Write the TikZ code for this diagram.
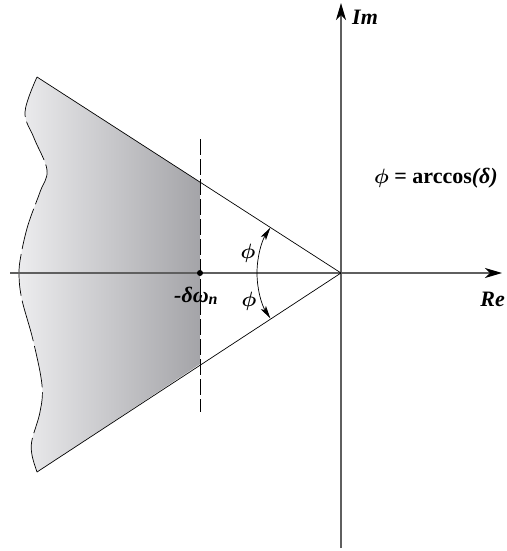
\documentclass[tikz,border=0pt]{standalone}
\usepackage{fontspec}
\setmainfont{Liberation Serif}
\usepackage{amsmath,bm}
\usetikzlibrary{arrows.meta}
\definecolor{shadeL}{RGB}{236,236,238}
\definecolor{shadeR}{RGB}{164,164,168}
\definecolor{axisgray}{RGB}{95,95,95}
\begin{document}
\begin{tikzpicture}[x=1pt,y=-1pt,
  axis/.style={draw=axisgray,line width=1.1pt,-{Stealth[black,length=17pt,width=10pt,inset=5pt]}},
  ray/.style={draw=black,line width=0.7pt},
  anglearrow/.style={draw=black,line width=0.7pt,-{Stealth[length=13pt,width=6pt,inset=3pt]}},
  lbl/.style={font=\fontsize{22}{24}\selectfont\bfseries\itshape,inner sep=0pt},
  philbl/.style={font=\fontsize{22}{24}\selectfont,inner sep=0pt}]
\useasboundingbox (0,0) rectangle (506,551);
% key points
\coordinate (O) at (341,273);
\coordinate (A) at (37,77);
\coordinate (B) at (37,472);
\coordinate (P) at (200,182);
\coordinate (Q) at (200,364);
\coordinate (D) at (200,273);
\coordinate (DT) at (200,139);
\coordinate (DB) at (200,412);
% shaded region
\shade[left color=shadeL,right color=shadeR]
  (A) -- (P) -- (Q) -- (B)
  -- plot[smooth,tension=0.6] coordinates {(37,472) (32,455) (32,440) (40,412) (42,385) (33,340) (22,300) (19,275) (21,255) (28,225) (40,192) (47,170) (34,138) (25,112) (37,77)}
  -- cycle;
\draw[line width=0.7pt,dash pattern=on 42pt off 5pt]
  plot[smooth,tension=0.6] coordinates {(37,77) (25,112) (34,138) (47,170) (40,192) (28,225) (21,255) (19,275) (22,300) (33,340) (42,385) (40,412) (32,440) (32,455) (37,472)};
% axes
\coordinate (ReS) at (10,273);
\coordinate (ReE) at (502,273);
\coordinate (ImS) at (341,548);
\coordinate (ImE) at (341,3);
\draw[axis] (ReS) -- (ReE);
\draw[axis] (ImS) -- (ImE);
% rays
\draw[ray] (O) -- (A);
\draw[ray] (O) -- (B);
% dashed line
\draw[line width=0.7pt,dash pattern=on 16pt off 4pt] (DT) -- (DB);
\fill (D) circle[radius=3];
% angle arcs
\draw[anglearrow] ([shift={(180:84)}]O) arc[start angle=180,end angle=212.8,radius=84];
\draw[anglearrow] ([shift={(180:84)}]O) arc[start angle=180,end angle=147.2,radius=84];
% labels
\node[philbl] (phi1) at (248,253) {$\boldsymbol{\phi}$};
\node[philbl] (phi2) at (249,301) {$\boldsymbol{\phi}$};
\node[lbl,anchor=base west] (dw) at (174,302) {-δω\raisebox{-0.25ex}{\fontsize{16}{17}\selectfont n}};
\node[lbl,anchor=base west] (im) at (352,25) {Im};
\node[lbl,anchor=base east] (re) at (505,306) {Re};
\node[inner sep=0pt,anchor=base east,font=\fontsize{22}{24}\selectfont\bfseries] (eq) at (498,183) {$\boldsymbol{\phi}$ = arccos\textit{(δ)}};
\end{tikzpicture}
\end{document}
